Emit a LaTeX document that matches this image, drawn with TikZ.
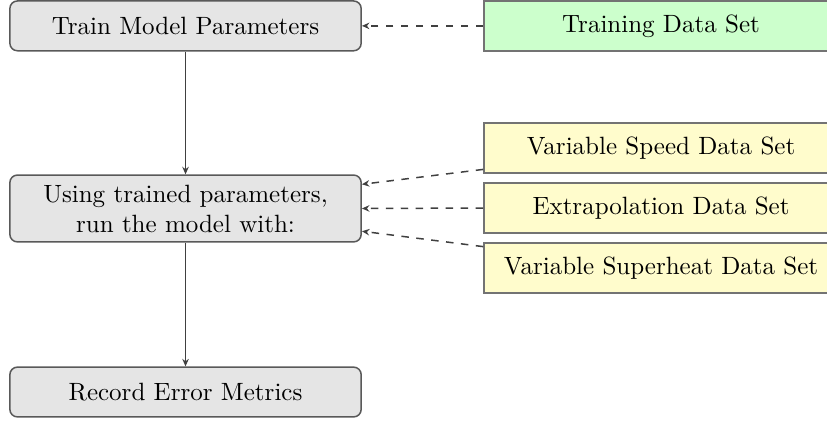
\documentclass[tikz,border=0pt]{standalone}
\usepackage{xcolor}
\usepackage{tikz}
\usetikzlibrary{arrows.meta, positioning}

\begin{document}
\begin{tikzpicture}[
    >={Stealth[length=3pt, width=2.6pt]},
    stage/.style={rectangle, draw=black!65, fill=gray!20, rounded corners=3pt,
                  semithick, minimum width=49.4mm, minimum height=7mm,
                  align=center, font=\normalsize},
    dataset/.style={rectangle, draw=black!55, semithick, minimum width=49.8mm,
                    minimum height=7mm, font=\normalsize},
    flow/.style={->, black!75, semithick},
    feed/.style={->, black!75, semithick, dashed},
]
\useasboundingbox (0,0) rectangle (11.63,5.949);

% ═══════════════════════════════════════════════════════════════════════════
%  LEFT: model stages
% ═══════════════════════════════════════════════════════════════════════════
\node[stage] (train) at (2.609,5.585) {Train Model Parameters};
\node[stage, minimum height=9.4mm] (run) at (2.609,3.017)
    {Using trained parameters,\\run the model with:};
\node[stage] (record) at (2.609,0.436) {Record Error Metrics};

\draw[flow] (train.south) -- (run.north);
\draw[flow] (run.south) -- (record.north);

% ═══════════════════════════════════════════════════════════════════════════
%  RIGHT: data sets
% ═══════════════════════════════════════════════════════════════════════════
\node[dataset, fill=green!20] (trainset) at (9.296,5.585) {Training Data Set};
\node[dataset, fill=yellow!20] (speedset) at (9.296,3.867)
    {Variable Speed Data Set};
\node[dataset, fill=yellow!20] (extraset) at (9.296,3.023)
    {Extrapolation Data Set};
\node[dataset, fill=yellow!20] (heatset) at (9.296,2.180)
    {Variable Superheat Data Set};

% Data feeding the stages
\draw[feed] (trainset.west) -- (train.east);
\draw[feed] ([yshift=0.6mm]speedset.south west) -- ([yshift=3.4mm]run.east);
\draw[feed] (extraset.west) -- (run.east);
\draw[feed] ([yshift=-0.6mm]heatset.north west) -- ([yshift=-3.2mm]run.east);

\end{tikzpicture}
\end{document}
